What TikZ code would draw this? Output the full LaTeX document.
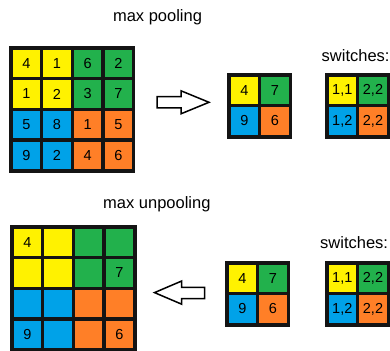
\documentclass[tikz,border=0pt]{standalone}
\usepackage{fontspec}
\setmainfont{Liberation Sans}
\definecolor{cy}{HTML}{FFF200}
\definecolor{cg}{HTML}{22B14C}
\definecolor{cb}{HTML}{00A2E8}
\definecolor{co}{HTML}{FF7F27}
\begin{document}
\begin{tikzpicture}[x=1pt,y=-1pt,
  cell/.style={minimum size=27.2pt,inner sep=0pt,anchor=north west,
    font=\fontsize{14.5}{14.5}\selectfont,text=black},
  frame/.style={fill=black!92,inner sep=0pt,anchor=north west},
  title/.style={font=\fontsize{16.5}{16.5}\selectfont,inner sep=0pt},
  bigarrow/.style={draw=black,line width=1.5pt,fill=white,line join=miter}]
\useasboundingbox (0,0) rectangle (390,350);
\clip (0,0) rectangle (390,350);
\def\p{30.7}
\def\g{3.5}
% ---------- titles
\node[title,anchor=base] (t1) at (157.5,21.7) {max pooling};
\node[title,anchor=base west] (s1) at (321.5,61.7) {switches:};
\node[title,anchor=base west] (t2) at (103,208) {max unpooling};
\node[title,anchor=base west] (s2) at (320,248.3) {switches:};
% ---------- top 4x4 grid
\node[frame,minimum width=126pt,minimum height=127pt] (A) at (9,46) {};
\foreach \r/\vals in {0/{4,1,6,2},1/{1,2,3,7},2/{5,8,1,5},3/{9,2,4,6}}{
  \foreach \v [count=\c from 0] in \vals {
    \ifnum\r<2 \ifnum\c<2 \def\col{cy}\else\def\col{cg}\fi
    \else \ifnum\c<2 \def\col{cb}\else\def\col{co}\fi\fi
    \node[cell,fill=\col] (a\r\c) at (9+\g+\c*\p,46+\g+\r*\p) {\v};
  }
}
% ---------- bottom 4x4 grid
\node[frame,minimum width=127pt,minimum height=127pt] (B) at (10,225) {};
\foreach \r/\vals in {0/{4,{},{},{}},1/{{},{},{},7},2/{{},{},{},{}},3/{9,{},{},6}}{
  \foreach \v [count=\c from 0] in \vals {
    \ifnum\r<2 \ifnum\c<2 \def\col{cy}\else\def\col{cg}\fi
    \else \ifnum\c<2 \def\col{cb}\else\def\col{co}\fi\fi
    \node[cell,fill=\col] (b\r\c) at (10+\g+\c*\p,225+\g+\r*\p) {\v};
  }
}
% ---------- top pooled 2x2
\node[frame,minimum width=65pt,minimum height=66pt] (C) at (227,73) {};
\node[cell,fill=cy] (c00) at (227+\g,73+\g) {4};
\node[cell,fill=cg] (c01) at (227+\g+\p,73+\g) {7};
\node[cell,fill=cb] (c10) at (227+\g,73+\g+\p) {9};
\node[cell,fill=co] (c11) at (227+\g+\p,73+\g+\p) {6};
% ---------- top switches
\node[frame,minimum width=65pt,minimum height=66pt] (D) at (325,73) {};
\node[cell,fill=cy] (d00) at (325+\g,73+\g) {1,1};
\node[cell,fill=cg] (d01) at (325+\g+\p,73+\g) {2,2};
\node[cell,fill=cb] (d10) at (325+\g,73+\g+\p) {1,2};
\node[cell,fill=co] (d11) at (325+\g+\p,73+\g+\p) {2,2};
% ---------- bottom pooled 2x2
\node[frame,minimum width=65pt,minimum height=66pt] (E) at (225,261) {};
\node[cell,fill=cy] (e00) at (225+\g,261+\g) {4};
\node[cell,fill=cg] (e01) at (225+\g+\p,261+\g) {7};
\node[cell,fill=cb] (e10) at (225+\g,261+\g+\p) {9};
\node[cell,fill=co] (e11) at (225+\g+\p,261+\g+\p) {6};
% ---------- bottom switches
\node[frame,minimum width=65pt,minimum height=66pt] (F) at (325,261) {};
\node[cell,fill=cy] (f00) at (325+\g,261+\g) {1,1};
\node[cell,fill=cg] (f01) at (325+\g+\p,261+\g) {2,2};
\node[cell,fill=cb] (f10) at (325+\g,261+\g+\p) {1,2};
\node[cell,fill=co] (f11) at (325+\g+\p,261+\g+\p) {2,2};
% ---------- arrows
\draw[bigarrow] (157,96.7) -- (181,96.7) -- (181,90.8) -- (209,102.3)
  -- (181,113.8) -- (181,107.9) -- (157,107.9) -- cycle;
\draw[bigarrow] (204.5,287.3) -- (181.7,287.3) -- (181.7,281) -- (154.5,292.6)
  -- (181.7,304.2) -- (181.7,298.5) -- (204.5,298.5) -- cycle;
\end{tikzpicture}
\end{document}
